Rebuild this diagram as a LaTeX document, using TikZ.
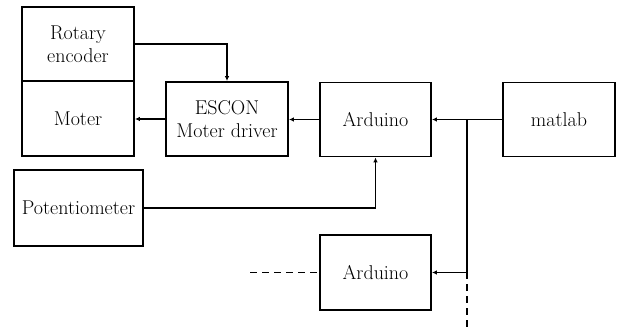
\documentclass[tikz,border=0pt]{standalone}
\usetikzlibrary{arrows.meta}
\begin{document}
\begin{tikzpicture}[x=1pt,y=-1pt,
  blk/.style={draw,line width=1.8pt,inner sep=0pt,align=center,font=\fontsize{20}{23}\selectfont},
  con/.style={line width=1.3pt},
  arr/.style={con,-{Latex[length=5pt,width=4.5pt]}},
  dsh/.style={line width=1.4pt,dash pattern=on 7pt off 5pt}]
\useasboundingbox (0,0) rectangle (622,331);
\node[blk,minimum width=112pt,minimum height=74pt] (enc) at (78,44) {Rotary\\encoder};
\node[blk,minimum width=112pt,minimum height=75pt] (mot) at (78,118.5) {Moter};
\node[blk,minimum width=122pt,minimum height=74pt] (esc) at (227,119) {ESCON\\Moter driver};
\node[blk,minimum width=111pt,minimum height=74pt] (ard) at (375.5,119.5) {Arduino};
\node[blk,minimum width=112pt,minimum height=74pt] (mat) at (559,119.5) {matlab};
\node[blk,minimum width=129pt,minimum height=76pt] (pot) at (78.5,208) {Potentiometer};
\node[blk,minimum width=111pt,minimum height=75pt] (ard2) at (375.5,272.5) {Arduino};
\coordinate (j1) at (467,119.5);
\coordinate (j2) at (467,272.5);
\coordinate (jend) at (467,328);
\coordinate (lend) at (250,272.5);
\draw[arr] (enc.east |- 0,44) -| (esc.north);
\draw[arr] (esc.west) -- (mot.east |- esc.west);
\draw[arr] (ard.west) -- (esc.east |- ard.west);
\draw[arr] (mat.west) -- (ard.east);
\draw[arr] (pot.east) -| (ard.south);
\draw[con] (j1) -- (j2);
\draw[arr] (j2) -- (ard2.east);
\draw[dsh] (j2) -- (jend);
\draw[dsh] (lend) -- (ard2.west);
\end{tikzpicture}
\end{document}
